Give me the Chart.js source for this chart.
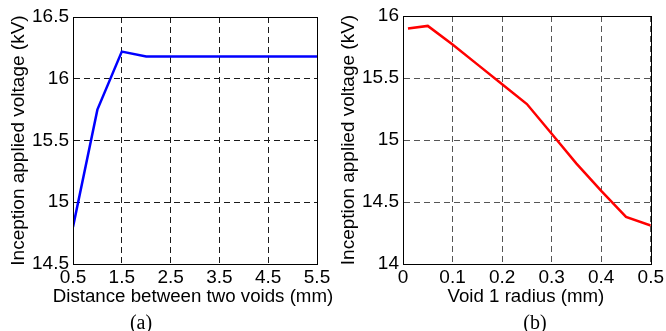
<!DOCTYPE html>
<html>
<head>
<meta charset="utf-8">
<script src="https://cdn.jsdelivr.net/npm/chart.js@4.4.0/dist/chart.umd.min.js"></script>
<style>
  html, body { margin: 0; padding: 0; background: #fff; }
  #wrap { position: relative; width: 666px; height: 331px; overflow: hidden; }
  .panel { position: absolute; top: 0; height: 331px; }
  .caption { position: absolute; top: 310px; width: 60px; margin-left: -30px; text-align: center;
             font-family: 'Liberation Serif', 'Times New Roman', serif; font-size: 20px; line-height: 24px; color: #000; }
</style>
</head>
<body>
<div id="wrap">
  <div class="panel" style="left:0;width:345px"><canvas id="chartA" width="345" height="331"></canvas></div>
  <div class="panel" style="left:333px;width:333px"><canvas id="chartB" width="333" height="331"></canvas></div>
  <div class="caption" style="left:141px">(a)</div>
  <div class="caption" style="left:535px">(b)</div>
</div>
<script>
/* ── Data ─────────────────────────────────────────────────── */
// (a) inception voltage vs distance between voids
const distanceMm = [0.5, 1, 1.5, 2, 2.5, 3, 3.5, 4, 4.5, 5, 5.5];
const voltageA   = [14.8, 15.75, 16.22, 16.18, 16.18, 16.18, 16.18, 16.18, 16.18, 16.18, 16.18];
const xTicksA    = [0.5, 1.5, 2.5, 3.5, 4.5, 5.5];
const yTicksA    = [14.5, 15, 15.5, 16, 16.5];

// (b) inception voltage vs void 1 radius
const radiusMm = [0.01, 0.05, 0.1, 0.15, 0.2, 0.25, 0.3, 0.35, 0.4, 0.45, 0.5];
const voltageB = [15.9, 15.92, 15.77, 15.61, 15.45, 15.29, 15.05, 14.81, 14.59, 14.38, 14.31];
const xTicksB  = [0, 0.1, 0.2, 0.3, 0.4, 0.5];
const yTicksB  = [14, 14.5, 15, 15.5, 16];

/* ── Style ────────────────────────────────────────────────── */
const SANS = "'Liberation Sans', Arial, sans-serif";

// box round the plot area + x-axis title (drawn without Chart.js's maxWidth squeeze)
const frame = {
  id: 'frame',
  afterDraw(chart, args, o) {
    const { ctx, chartArea: a } = chart;
    ctx.save();
    ctx.strokeStyle = '#000';
    ctx.lineWidth = 1;
    ctx.strokeRect(Math.round(a.left) + 0.5, Math.round(a.top) + 0.5,
                   Math.round(a.right - a.left), Math.round(a.bottom - a.top));
    ctx.fillStyle = '#000';
    ctx.font = '18.7px ' + SANS;
    ctx.textAlign = 'center';
    ctx.textBaseline = 'middle';
    ctx.fillText(o.xTitle, (a.left + a.right) / 2 + o.dx, a.bottom + 33);
    ctx.restore();
  }
};

function makePanel(id, xs, ys, color, xTicks, yTicks, xTitle, opts) {
  const ctx = document.getElementById(id);
  return new Chart(ctx, {
    type: 'line',
    data: {
      datasets: [{
        data: xs.map((x, i) => ({ x, y: ys[i] })),
        borderColor: color, borderWidth: 2.5,
        pointRadius: 0, tension: 0, fill: false
      }]
    },
    options: {
      responsive: false, animation: false,
      layout: { autoPadding: false, padding: opts.padding },
      plugins: { legend: { display: false }, tooltip: { enabled: false }, frame: { xTitle, dx: opts.titleDx } },
      scales: {
        x: {
          type: 'linear', min: xTicks[0], max: xTicks[xTicks.length - 1],
          afterBuildTicks: s => { s.ticks = xTicks.map(v => ({ value: v })); },
          afterFit: s => { s.height = 49; },
          ticks: { autoSkip: false, maxRotation: 0, padding: 2, color: '#000',
                   font: { family: SANS, size: 19 }, callback: v => String(v) },
          grid: { color: opts.gridColor, lineWidth: 1, drawTicks: false },
          border: { display: true, color: '#000', dash: [6, 4] }
        },
        y: {
          type: 'linear', min: yTicks[0], max: yTicks[yTicks.length - 1],
          afterBuildTicks: s => { s.ticks = yTicks.map(v => ({ value: v })); },
          afterFit: s => { s.width = opts.yWidth; },
          ticks: { autoSkip: false, padding: 4, color: '#000',
                   font: { family: SANS, size: 19 }, callback: v => String(v) },
          grid: { color: opts.gridColor, lineWidth: 1, drawTicks: false },
          border: { display: true, color: '#000', dash: [6, 4] },
          title: { display: true, text: 'Inception applied voltage (kV)', color: '#000',
                   font: { family: SANS, size: 19 }, padding: { top: opts.yTitlePad, bottom: 0 } }
        }
      }
    },
    plugins: [frame]
  });
}

makePanel('chartA', distanceMm, voltageA, '#0000ff', xTicksA, yTicksA,
  'Distance between two voids (mm)',
  { padding: { left: 0, top: 17, right: 28, bottom: 18 }, yWidth: 73, yTitlePad: 7.6,
    gridColor: '#1a1a1a', titleDx: -2 });

makePanel('chartB', radiusMm, voltageB, '#ff0000', xTicksB, yTicksB,
  'Void 1 radius (mm)',
  { padding: { left: 0, top: 16, right: 15, bottom: 18 }, yWidth: 70, yTitlePad: 4.8,
    gridColor: '#555', titleDx: -1 });
</script>
</body>
</html>
